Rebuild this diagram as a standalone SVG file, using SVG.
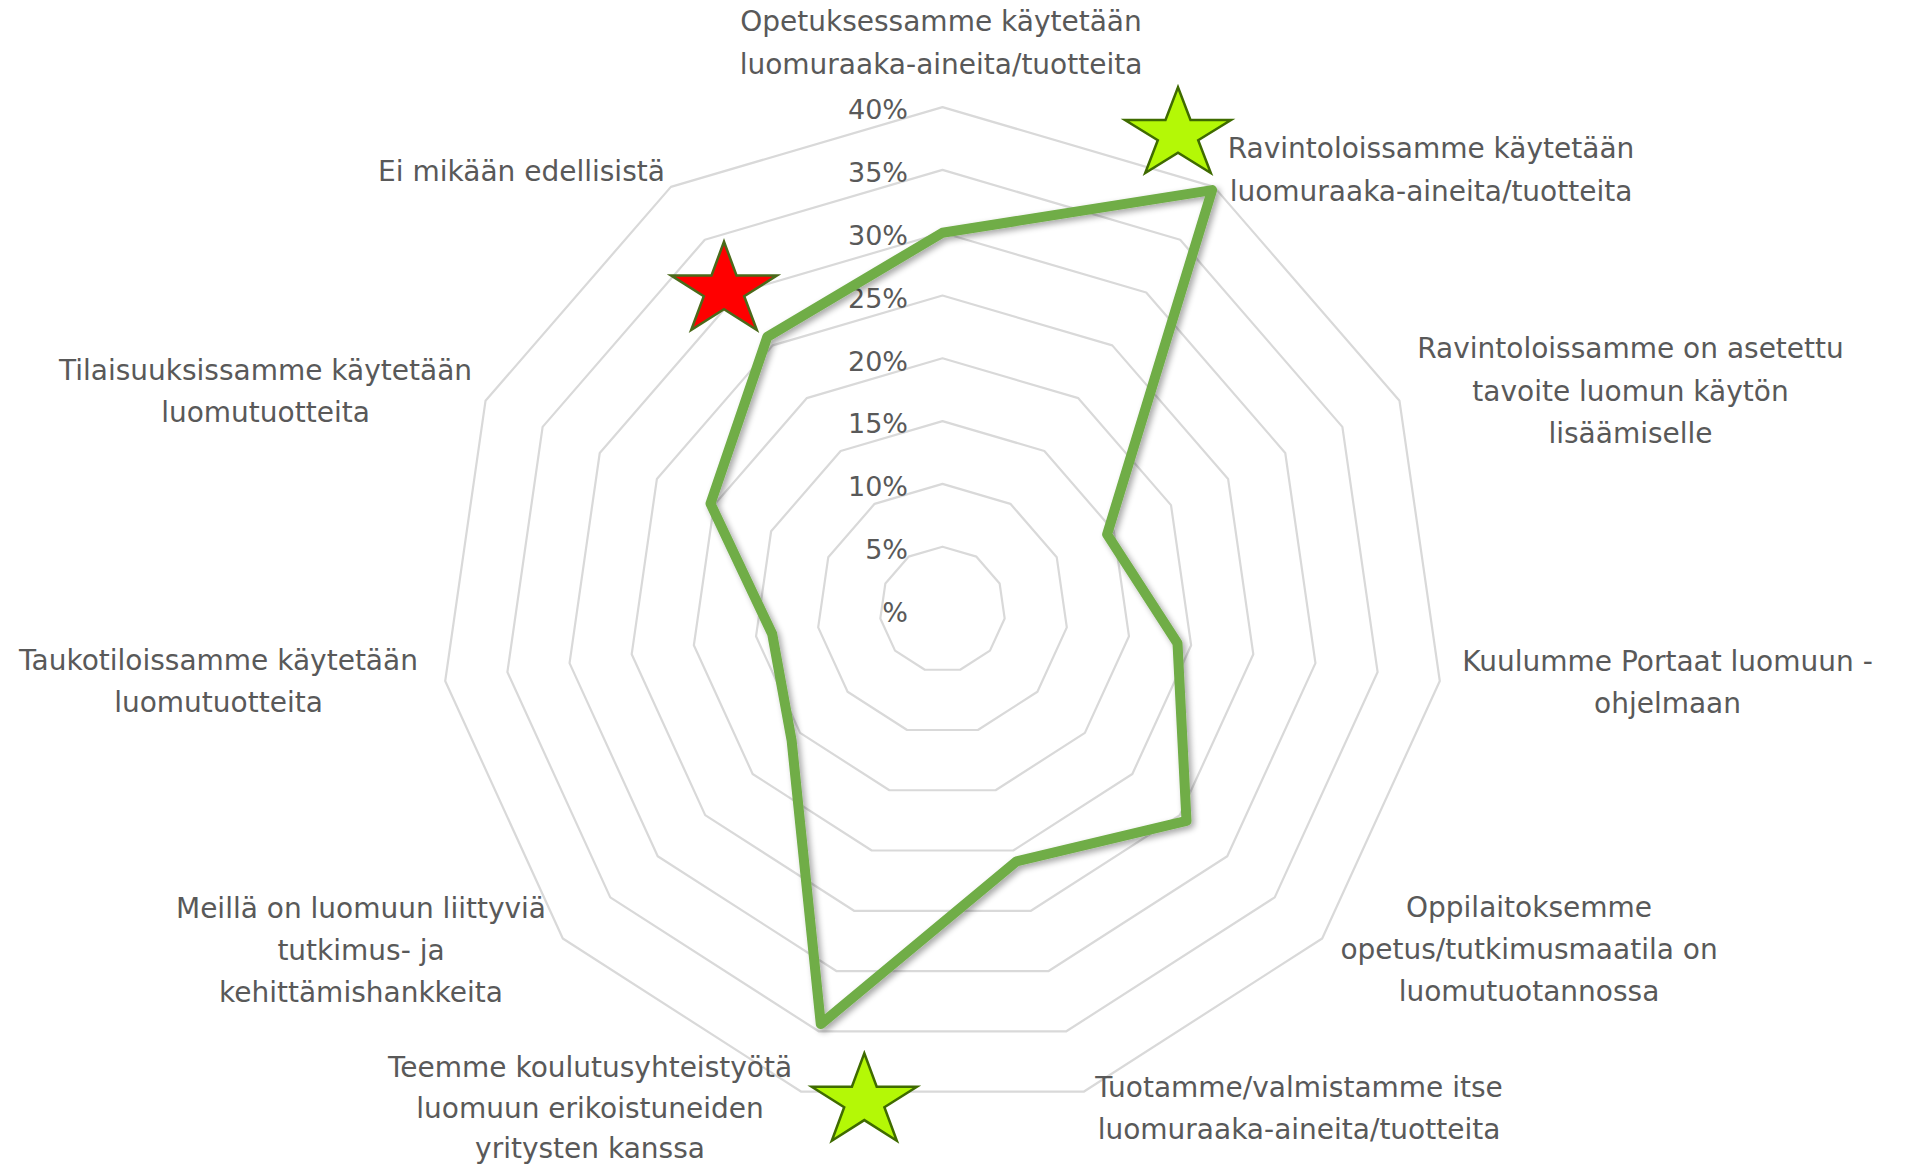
<svg xmlns="http://www.w3.org/2000/svg" width="1906" height="1167" viewBox="0 0 1906 1167">
<style>
.ring{fill:none;stroke:#d9d9d9;stroke-width:2.2;stroke-linejoin:round}
.cat{font-family:"DejaVu Sans","Liberation Sans",sans-serif;font-size:28px;fill:#595959;text-anchor:middle}
.val{font-family:"DejaVu Sans","Liberation Sans",sans-serif;font-size:27px;fill:#595959;text-anchor:end}
.series{fill:none;stroke:#70ad47;stroke-width:10;stroke-linejoin:round}
.gstar{fill:#b4f806;stroke:#3f6b00;stroke-width:2.5;stroke-linejoin:miter}
.rstar{fill:#ff0000;stroke:#4a6a1a;stroke-width:2.5;stroke-linejoin:miter}
</style>
<defs>
<filter id="shadow" x="-10%" y="-10%" width="120%" height="120%">
<feGaussianBlur in="SourceAlpha" stdDeviation="3"/>
<feOffset dx="3" dy="3" result="b"/>
<feComponentTransfer><feFuncA type="linear" slope="0.35"/></feComponentTransfer>
<feMerge><feMergeNode/><feMergeNode in="SourceGraphic"/></feMerge>
</filter>
</defs>
<rect width="1906" height="1167" fill="#ffffff"/>
<g id="grid">
<polygon class="ring" points="942.5,546.7 976.45,556.67 999.62,583.41 1004.66,618.44 989.96,650.63 960.19,669.76 924.81,669.76 895.04,650.63 880.34,618.44 885.38,583.41 908.55,556.67"/>
<polygon class="ring" points="942.5,483.9 1010.4,503.84 1056.75,557.32 1066.82,627.37 1037.42,691.75 977.89,730.01 907.11,730.01 847.58,691.75 818.18,627.37 828.25,557.32 874.6,503.84"/>
<polygon class="ring" points="942.5,421.1 1044.36,451.01 1113.87,531.23 1128.98,636.31 1084.88,732.88 995.58,790.27 889.42,790.27 800.12,732.88 756.02,636.31 771.13,531.23 840.64,451.01"/>
<polygon class="ring" points="942.5,358.3 1078.31,398.18 1171,505.15 1191.14,645.25 1132.34,774 1013.27,850.52 871.73,850.52 752.66,774 693.86,645.25 714,505.15 806.69,398.18"/>
<polygon class="ring" points="942.5,295.5 1112.26,345.35 1228.12,479.06 1253.3,654.19 1179.81,815.13 1030.96,910.78 854.04,910.78 705.19,815.13 631.7,654.19 656.88,479.06 772.74,345.35"/>
<polygon class="ring" points="942.5,232.7 1146.21,292.52 1285.25,452.97 1315.46,663.12 1227.27,856.25 1048.66,971.04 836.34,971.04 657.73,856.25 569.54,663.12 599.75,452.97 738.79,292.52"/>
<polygon class="ring" points="942.5,169.9 1180.17,239.69 1342.37,426.88 1377.62,672.06 1274.73,897.38 1066.35,1031.29 818.65,1031.29 610.27,897.38 507.38,672.06 542.63,426.88 704.83,239.69"/>
<polygon class="ring" points="942.5,107.1 1214.12,186.86 1399.49,400.79 1439.79,681 1322.19,938.5 1084.04,1091.55 800.96,1091.55 562.81,938.5 445.21,681 485.51,400.79 670.88,186.86"/>
</g>
<g id="value-axis">
<text class="val" x="908" y="119.4">40%</text>
<text class="val" x="908" y="182.2">35%</text>
<text class="val" x="908" y="245">30%</text>
<text class="val" x="908" y="307.8">25%</text>
<text class="val" x="908" y="370.6">20%</text>
<text class="val" x="908" y="433.4">15%</text>
<text class="val" x="908" y="496.2">10%</text>
<text class="val" x="908" y="559">5%</text>
<text class="val" x="908" y="621.8">%</text>
</g>
<g id="categories">
<g id="cat-0"><text class="cat" x="941" y="31">Opetuksessamme käytetään</text><text class="cat" x="941" y="73.5">luomuraaka-aineita/tuotteita</text></g>
<g id="cat-1"><text class="cat" x="1431" y="158.3">Ravintoloissamme käytetään</text><text class="cat" x="1431" y="200.7">luomuraaka-aineita/tuotteita</text></g>
<g id="cat-2"><text class="cat" x="1630.5" y="358.3">Ravintoloissamme on asetettu</text><text class="cat" x="1630.5" y="400.7">tavoite luomun käytön</text><text class="cat" x="1630.5" y="443.3">lisäämiselle</text></g>
<g id="cat-3"><text class="cat" x="1667.5" y="670.7">Kuulumme Portaat luomuun -</text><text class="cat" x="1667.5" y="712.7">ohjelmaan</text></g>
<g id="cat-4"><text class="cat" x="1529" y="916.5">Oppilaitoksemme</text><text class="cat" x="1529" y="958.5">opetus/tutkimusmaatila on</text><text class="cat" x="1529" y="1000.5">luomutuotannossa</text></g>
<g id="cat-5"><text class="cat" x="1299" y="1096.7">Tuotamme/valmistamme itse</text><text class="cat" x="1299" y="1138.5">luomuraaka-aineita/tuotteita</text></g>
<g id="cat-6"><text class="cat" x="590" y="1076.5">Teemme koulutusyhteistyötä</text><text class="cat" x="590" y="1117.5">luomuun erikoistuneiden</text><text class="cat" x="590" y="1158">yritysten kanssa</text></g>
<g id="cat-7"><text class="cat" x="361" y="918.3">Meillä on luomuun liittyviä</text><text class="cat" x="361" y="960">tutkimus- ja</text><text class="cat" x="361" y="1001.7">kehittämishankkeita</text></g>
<g id="cat-8"><text class="cat" x="218.5" y="670">Taukotiloissamme käytetään</text><text class="cat" x="218.5" y="712">luomutuotteita</text></g>
<g id="cat-9"><text class="cat" x="265.5" y="380">Tilaisuuksissamme käytetään</text><text class="cat" x="265.5" y="422">luomutuotteita</text></g>
<g id="cat-10"><text class="cat" x="521.5" y="181">Ei mikään edellisistä</text></g>
</g>
<g id="series" filter="url(#shadow)">
<polygon class="series" points="942.5,232.7 1212.1,190.1 1107.1,534.4 1177.5,643.3 1186.5,820.9 1016.5,861.4 820.8,1024.1 791.6,740.3 772.2,634 710.5,503.6 767.3,336.9"/>
</g>
<g id="stars">
<path id="star-red" class="rstar" d="M724,241.7 L736.5,275.4 L777,275.4 L744.2,296.3 L756.8,330 L724,309.2 L691.2,330 L703.8,296.3 L671,275.4 L711.5,275.4 Z"/>
<path id="star-green-top" class="gstar" d="M1178,87.3 L1190.5,120 L1231,120 L1198.2,140.3 L1210.8,173 L1178,152.8 L1145.2,173 L1157.8,140.3 L1125,120 L1165.5,120 Z"/>
<path id="star-green-bottom" class="gstar" d="M864.3,1053.3 L876.7,1086.7 L916.9,1086.7 L884.4,1107.3 L896.8,1140.7 L864.3,1120.1 L831.8,1140.7 L844.2,1107.3 L811.7,1086.7 L851.9,1086.7 Z"/>
</g>
</svg>
